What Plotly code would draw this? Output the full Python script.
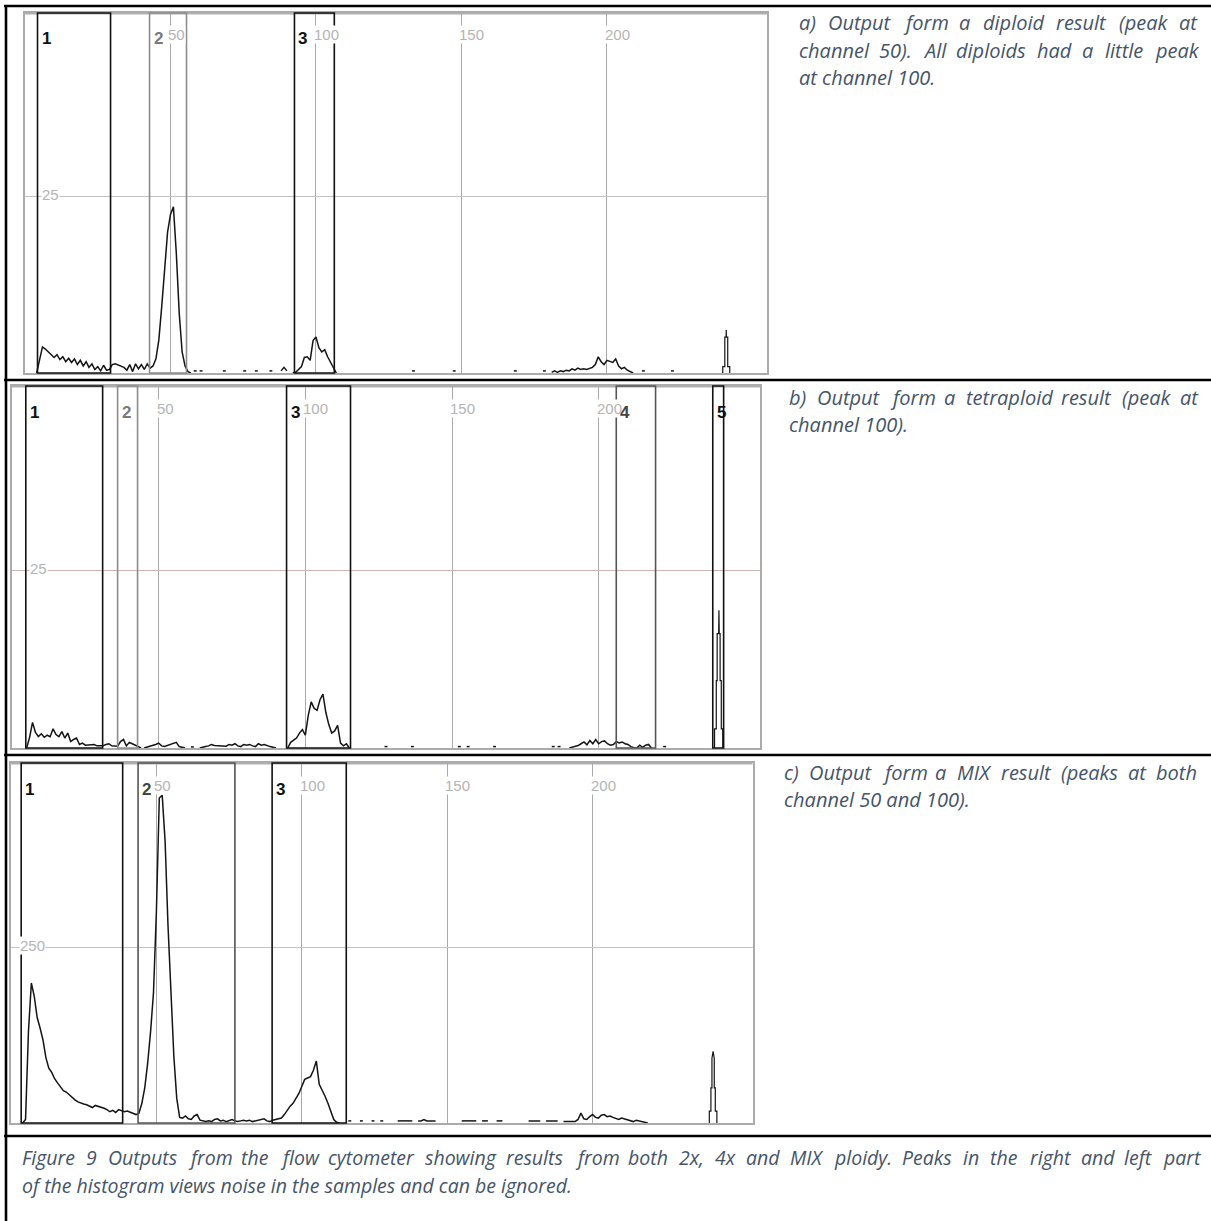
import plotly.graph_objects as go

W, H = 1211, 1221

# ------------------------------------------------------------------
# Flow cytometer histograms: counts per channel (0-255), stored as runs
# of consecutive channels -> (first channel, [counts...]).
# Channels without events between runs are not drawn.
# ------------------------------------------------------------------
diploid_runs = [
    (4, [0, 2.0, 3.7, 3.4, 3.0, 2.6, 2.2, 2.6, 1.9, 2.3, 1.6, 2.1, 1.5, 2.0, 1.2, 1.8,
         1.0, 1.6, 0.8, 1.3, 0.5, 0.9, 0.3, 1.1, 0.4, 0.5, 1.2, 1.3, 1.1, 1.0, 0.8, 0.4,
         1.2, 0.2, 1.3, 0.6, 1.2, 0.5, 1.3, 0.7, 1.0, 2.0, 4.7, 9.5, 15.5, 20.0, 22.5,
         23.6, 17.0, 8.5, 3.0, 1.0, 0.2, 0]),
    (58, [0.3, 0.3]), (60, [0.3, 0.3]), (68, [0.3, 0.3]), (75, [0.3, 0.3]),
    (79, [0.3, 0.3]), (84, [0.3, 0.3]), (88, [0.3, 0.8, 0.3]),
    (92, [0, 0.1, 0.5, 0.9, 2.2, 2.3, 1.8, 4.6, 5.1, 3.6, 3.0, 3.3, 2.3, 1.5, 0.6, 0]),
    (133, [0.3, 0.3]), (147, [0.3, 0.3]), (168, [0.3, 0.3]), (178, [0.3, 0.3]),
    (181, [0.1, 0.3, 0.1, 0.3, 0.2, 0.4, 0.3, 0.6, 0.4, 0.7, 0.5, 0.6, 0.5, 0.6, 0.8,
           1.2, 2.3, 1.6, 1.2, 1.8, 1.6, 1.5, 2.0, 1.0, 0.6, 0.8, 0.4, 0.2, 0]),
    (212, [0.3, 0.3]), (222, [0.3, 0.3]),
]
diploid_spike_ch = [239.8, 239.8, 240.5, 240.5, 240.95, 241.0, 241.05, 241.5, 241.5, 242.2, 242.2]
diploid_spike_n = [0, 0.9, 0.9, 5.1, 5.1, 6.1, 5.1, 5.1, 0.9, 0.9, 0]

tetraploid_runs = [
    (5, [0, 1.5, 3.6, 2.2, 1.6, 2.0, 1.5, 1.8, 1.6, 2.7, 1.9, 1.6, 2.3, 1.4, 2.1, 0.9,
         1.2, 1.4, 0.5, 0.7, 0.4, 0.4, 0.4, 0.5, 0.3, 0.25, 0.3, 0.5, 0.6, 0.3, 0.3,
         0.25, 0.9, 1.2, 0.3, 0.8, 0.6, 0.4, 0.1, 0]),
    (45, [0, 0.1, 0.3, 0.4, 0.5, 0.7, 0.3, 0.2, 0.35, 0.4, 0.6, 0.8, 0.2, 0.1, 0]),
    (61, [0.15, 0.15]),
    (64, [0, 0.15, 0.2, 0.3, 0.5, 0.35, 0.3, 0.25, 0.2, 0.25, 0.5, 0.4, 0.6, 0.3, 0.2,
          0.5, 0.4, 0.5, 0.3, 0.2, 0.6, 0.4, 0.5, 0.3, 0.2, 0.1, 0]),
    (94, [0, 0.8, 1.1, 1.4, 2.1, 2.6, 1.8, 4.6, 6.5, 5.6, 5.3, 6.8, 7.6, 5.0, 3.3, 2.1,
          2.4, 3.2, 0.7, 0.3, 0.6, 0]),
    (127, [0.2, 0.2]), (136, [0.2, 0.2]), (152, [0.2, 0.2]), (155, [0.2, 0.2]),
    (164, [0.2, 0.2]), (184, [0.2, 0.2]), (186, [0.2, 0.2]),
    (190, [0, 0.1, 0.15, 0.35, 0.6, 0.85, 0.45, 1.05, 0.6, 1.2, 0.6, 0.9, 1.0, 0.6, 0.4,
           0.5, 0.9, 0.7, 0.85, 0.6, 0.5, 0.2, 0.05, 0, 0.4, 0.1, 0.4, 0.5, 0]),
    (222, [0.2, 0.2]),
]
tetraploid_spike_ch = [239.5, 239.5, 240.1, 240.1, 240.4, 240.4, 240.9, 241.0, 241.1,
                       241.4, 241.4, 241.8, 241.8, 242.3, 242.3]
tetraploid_spike_n = [0, 2.7, 2.7, 9.5, 9.5, 16.1, 16.1, 19.4, 16.1, 16.1, 9.5, 9.5,
                      2.7, 2.7, 0]

mix_runs = [
    (4, [0, 5, 130, 199, 180, 150, 135, 118, 93, 78, 72, 63, 57, 52, 46, 44, 40, 37, 33,
         30, 28, 27, 26, 24, 22, 25, 24, 23, 21, 19, 16, 18, 15, 19, 17, 16, 17, 15, 14,
         12, 14, 28, 50, 85, 130, 185, 300, 462, 466, 400, 280, 180, 95, 35, 8, 7, 10, 6,
         5, 10, 12, 4, 3, 2, 3, 2, 5, 6, 3, 4, 2, 3, 5, 3, 2, 3, 4, 3, 4, 2, 3, 4, 5, 6,
         3, 2, 4, 5, 6, 7, 12, 19, 24, 28, 35, 42, 52, 62, 64, 66, 75, 88, 55, 47, 38, 28,
         17, 5, 1, 0]),
    (116, [3, 3]), (120, [3, 3]), (124, [3, 3]), (127, [3, 3]),
    (133, [3, 3, 3, 4, 3, 3]), (140, [3, 3, 5, 3, 3, 3, 3]),
    (155, [3, 3, 3, 3, 3, 3]), (162, [3, 3, 3]), (167, [3, 3, 3]),
    (178, [3, 3, 3, 3, 3]), (184, [3, 3, 3, 3, 3]),
    (190, [2, 2, 2, 3, 2, 5, 14, 6, 5, 9, 12, 8, 7, 11, 12, 9, 10, 8, 6, 5, 7, 6, 5, 3,
           2, 4, 3, 2, 1, 0]),
]
mix_spike_ch = [240.15, 240.15, 240.7, 240.7, 241.05, 241.05, 241.45, 241.85, 241.85,
                242.2, 242.2, 242.75, 242.75]
mix_spike_n = [0, 17, 17, 50, 50, 92, 102, 92, 50, 50, 17, 17, 0]

# Gates: (label, first channel, last channel, line colour)
diploid_gates = [("1", 4.3, 29.4, "#111111"), ("2", 42.8, 55.5, "#8c8c8c"),
                 ("3", 92.6, 106.3, "#111111")]
tetraploid_gates = [("1", 4.7, 30.9, "#111111"), ("2", 36.0, 42.8, "#8c8c8c"),
                    ("3", 93.6, 115.4, "#111111"), ("4", 206.0, 219.4, "#555555"),
                    ("5", 238.9, 242.6, "#111111")]
mix_gates = [("1", 3.5, 38.4, "#111111"), ("2", 43.7, 77.0, "#555555"),
             ("3", 89.8, 115.3, "#111111")]

channel_ticks = [50, 100, 150, 200]

# Panel boxes in pixels: left, right, top, bottom; y max; count gridline
panels = [
    dict(runs=diploid_runs, sx=diploid_spike_ch, sy=diploid_spike_n, gates=diploid_gates,
         box=(25, 767, 13, 373), ymax=51.1, ygrid=25, ylab_x=50, hcol="#c4c0c0"),
    dict(runs=tetraploid_runs, sx=tetraploid_spike_ch, sy=tetraploid_spike_n,
         gates=tetraploid_gates, box=(12, 760, 386, 748), ymax=51.0, ygrid=25, ylab_x=38,
         hcol="#d2b6b6"),
    dict(runs=mix_runs, sx=mix_spike_ch, sy=mix_spike_n, gates=mix_gates,
         box=(11, 752.5, 763, 1123), ymax=511.8, ygrid=250, ylab_x=32, hcol="#c4c4c4"),
]

TEXT_COLOR = "#44546A"
TEXT_FONT = "Open Sans"
LABEL_FONT = "Liberation Sans Narrow, Liberation Sans, Arial"

text_blocks = [
    dict(lines=["a) Output form a diploid result (peak at",
                "channel 50). All diploids had a little peak",
                "at channel 100."], x0=797, x1=1198, y=[23, 50, 77], size=20),
    dict(lines=["b) Output form a tetraploid result (peak at",
                "channel 100)."], x0=787, x1=1199, y=[398, 425], size=20),
    dict(lines=["c) Output form a MIX result (peaks at both",
                "channel 50 and 100)."], x0=782, x1=1198, y=[772, 799], size=20),
    dict(lines=["Figure 9 Outputs from the flow cytometer showing results from both 2x, "
                "4x and MIX ploidy. Peaks in the right and left part",
                "of the histogram views noise in the samples and can be ignored."],
         x0=20, x1=1200, y=[1157, 1185], size=19.5),
]

# Approximate advance widths (em) used to spread words over justified lines
EM = {"a": .556, "b": .613, "c": .476, "d": .613, "e": .561, "f": .339, "g": .548,
      "h": .614, "i": .253, "j": .253, "k": .525, "l": .253, "m": .93, "n": .614,
      "o": .604, "p": .613, "q": .613, "r": .408, "s": .477, "t": .353, "u": .614,
      "v": .501, "w": .778, "x": .524, "y": .502, "z": .477, "(": .282, ")": .282,
      ".": .266, ",": .244, "A": .633, "F": .505, "I": .303, "M": .903, "O": .781,
      "P": .604, "X": .585}


def word_width(word, size):
    return sum(EM.get(ch, .572) for ch in word) * size * 0.92


def px(x):
    return x / W


def py(y):
    return 1 - y / H


fig = go.Figure()
annotations = []
shapes = []

for i, p in enumerate(panels):
    sfx = "" if i == 0 else str(i + 1)
    xa, ya = "x" + sfx, "y" + sfx
    left, right, top, bottom = p["box"]

    xs, ys = [], []
    for start, counts in p["runs"]:
        xs += list(range(start, start + len(counts))) + [None]
        ys += list(counts) + [None]
    fig.add_trace(go.Scatter(x=xs, y=ys, mode="lines", xaxis=xa, yaxis=ya,
                             line=dict(color="#141414", width=1.5),
                             connectgaps=False, hoverinfo="skip", showlegend=False))
    fig.add_trace(go.Scatter(x=p["sx"], y=p["sy"], mode="lines", xaxis=xa, yaxis=ya,
                             line=dict(color="#141414", width=1.2),
                             hoverinfo="skip", showlegend=False))

    axis_common = dict(showline=True, mirror=True, linecolor="#ababab", linewidth=2,
                       zeroline=False, showticklabels=False, ticks="", fixedrange=True,
                       layer="below traces")
    fig.update_layout(**{
        "xaxis" + sfx: dict(axis_common, domain=[px(left), px(right)], range=[0, 255],
                            tickvals=channel_ticks, showgrid=True, gridcolor="#a9a9a9",
                            gridwidth=1, anchor=ya),
        "yaxis" + sfx: dict(axis_common, domain=[py(bottom), py(top)],
                            range=[0, p["ymax"]], tickvals=[p["ygrid"]], showgrid=True,
                            gridcolor=p["hcol"], gridwidth=1, anchor=xa),
    })

    # heavier top edge of the plot frame
    shapes.append(dict(type="line", xref=xa + " domain", yref=ya + " domain", x0=0, x1=1,
                       y0=1, y1=1, line=dict(color="#b0b0b0", width=3), layer="below"))

    # channel labels on the vertical grid lines
    for t in channel_ticks:
        annotations.append(dict(x=t, y=py(top + 22), xref=xa, yref="paper", text=str(t),
                                showarrow=False, xanchor="left", yanchor="middle",
                                xshift=-3, bgcolor="white", borderpad=0,
                                font=dict(family=LABEL_FONT, size=15, color="#b4b4b4")))
    # count label on the horizontal grid line
    annotations.append(dict(x=px(p["ylab_x"]), y=p["ygrid"], xref="paper", yref=ya,
                            text=str(p["ygrid"]), showarrow=False, xanchor="center",
                            yanchor="middle", yshift=2, bgcolor="white", borderpad=0,
                            font=dict(family=LABEL_FONT, size=15, color="#b4b4b4")))

    # gates
    for label, lo, hi, col in p["gates"]:
        shapes.append(dict(type="rect", xref=xa, yref=ya + " domain", x0=lo, x1=hi,
                           y0=0, y1=1, line=dict(color=col, width=1.6), layer="above"))
        lab_col = "#111111" if col == "#111111" else ("#7a7a7a" if col == "#8c8c8c" else "#444444")
        annotations.append(dict(x=lo, y=py(top + 26), xref=xa, yref="paper",
                                text="<b>%s</b>" % label, showarrow=False,
                                xanchor="left", yanchor="middle", xshift=2,
                                font=dict(family=LABEL_FONT, size=17, color=lab_col)))

# table rules
rule = dict(color="#000000", width=2.6)
for y in [6, 380, 755, 1136]:
    shapes.append(dict(type="line", xref="paper", yref="paper", x0=px(4), x1=1,
                       y0=py(y), y1=py(y), line=rule, layer="above"))
shapes.append(dict(type="line", xref="paper", yref="paper", x0=px(6), x1=px(6),
                   y0=py(5), y1=0, line=rule, layer="above"))

# captions: justified lines are laid out word by word
for blk in text_blocks:
    n = len(blk["lines"])
    for k, (line, y) in enumerate(zip(blk["lines"], blk["y"])):
        font = dict(family=TEXT_FONT, size=blk["size"], color=TEXT_COLOR)
        words = line.split(" ")
        if k == n - 1 or len(words) < 2:
            annotations.append(dict(x=px(blk["x0"]), y=py(y), xref="paper", yref="paper",
                                    text="<i>%s</i>" % line, showarrow=False,
                                    xanchor="left", yanchor="middle", font=font))
            continue
        widths = [word_width(w, blk["size"]) for w in words]
        # annotation boxes add a small pad, so aim slightly short of the right margin
        gap = (blk["x1"] - 4 - blk["x0"] - sum(widths)) / (len(words) - 1)
        x = blk["x0"]
        for w, ww in zip(words, widths):
            annotations.append(dict(x=px(x), y=py(y), xref="paper", yref="paper",
                                    text="<i>%s</i>" % w, showarrow=False,
                                    xanchor="left", yanchor="middle", font=font))
            x += ww + gap

fig.update_layout(width=W, height=H, margin=dict(l=0, r=0, t=0, b=0),
                  paper_bgcolor="white", plot_bgcolor="white", showlegend=False,
                  annotations=annotations, shapes=shapes)

fig.write_html("out.html")
